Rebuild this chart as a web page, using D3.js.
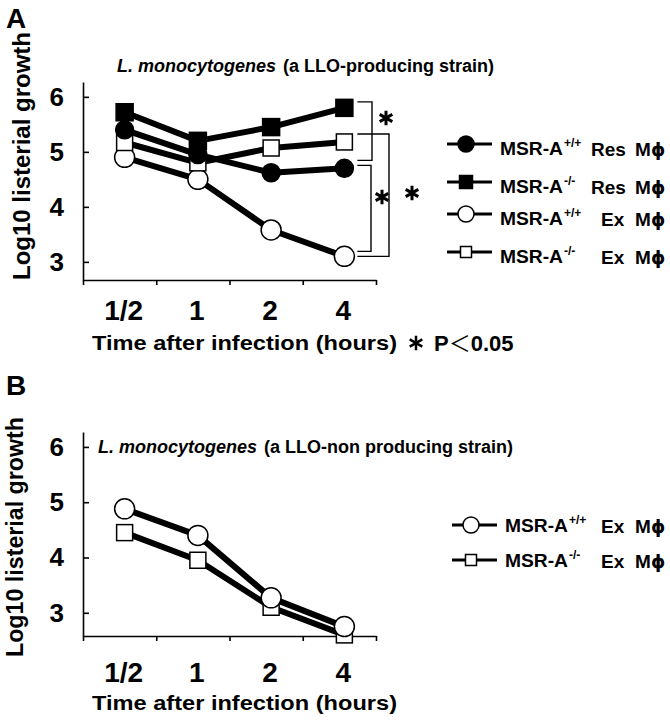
<!DOCTYPE html>
<html>
<head>
<meta charset="utf-8">
<script src="https://cdn.jsdelivr.net/npm/d3@7"></script>
<style>
  body { margin: 0; background: #fff; }
  svg { display: block; }
  text { font-family: "Liberation Sans", Arial, sans-serif; font-weight: bold; fill: #000; }
</style>
</head>
<body>
<div id="chart"></div>
<script>
// time points and y ticks
const times = ["1/2", "1", "2", "4"];
const yTicks = [3, 4, 5, 6];

// panel A: LLO-producing strain
const resWT_A = [5.4, 4.95, 4.62, 4.7];
const resKO_A = [5.72, 5.2, 5.45, 5.8];
const exWT_A = [4.9, 4.5, 3.58, 3.1];
const exKO_A = [5.17, 4.8, 5.07, 5.18];

// panel B: LLO-non producing strain
const exWT_B = [4.88, 4.4, 3.27, 2.75];
const exKO_B = [4.45, 3.95, 3.1, 2.6];

const seriesA = [
    { key: "exWT", values: exWT_A, shape: "circle", filled: false, geno: "+/+", cell: "Ex" },
    { key: "exKO", values: exKO_A, shape: "square", filled: false, geno: "-/-", cell: "Ex" },
    { key: "resWT", values: resWT_A, shape: "circle", filled: true, geno: "+/+", cell: "Res" },
    { key: "resKO", values: resKO_A, shape: "square", filled: true, geno: "-/-", cell: "Res" }
];
const legendOrderA = ["resWT", "resKO", "exWT", "exKO"];

const seriesB = [
    { key: "exKO", values: exKO_B, shape: "square", filled: false, geno: "-/-", cell: "Ex" },
    { key: "exWT", values: exWT_B, shape: "circle", filled: false, geno: "+/+", cell: "Ex" }
];
const legendOrderB = ["exWT", "exKO"];

// significance brackets in panel A (pairs compared at 4 h)
const bracketsA = [
    { from: "resKO", to: "resWT", x: 372, dy: [-6, -8] },
    { from: "exKO", to: "exWT", x: 389, dy: [-8, 0] },
    { from: "resWT", to: "exWT", x: 371, dy: [-3, -5] }
];

const svg = d3.select("#chart")
    .append("svg")
    .attr("width", 670)
    .attr("height", 720);

svg.append("rect").attr("width", 670).attr("height", 720).attr("fill", "#fff");

function marker(g, s, cx, cy, big) {
    const fill = s.filled ? "#000" : "#fff";
    if (s.shape === "circle") {
        g.append("circle")
            .attr("cx", cx).attr("cy", cy)
            .attr("r", big ? (s.filled ? 9 : 10) : 8)
            .attr("fill", fill).attr("stroke", "#000").attr("stroke-width", 1.5);
    } else {
        const side = big ? (s.filled ? 17 : 16) : (s.filled ? 13 : 11);
        g.append("rect")
            .attr("x", cx - side / 2).attr("y", cy - side / 2)
            .attr("width", side).attr("height", side)
            .attr("fill", fill).attr("stroke", "#000").attr("stroke-width", 1.5);
    }
}

function panel(opt) {
    const g = svg.append("g");

    const x = d3.scaleBand().domain(times).range([83, 376]);
    const px = d => x(d) + x.bandwidth() / 2 + 5;
    const xEdges = d3.scaleLinear().domain([0, times.length]).range([83, 376]);
    const y = d3.scaleLinear().domain(opt.yDomain).range([opt.bottom, opt.top]);

    // y axis
    const yAxis = g.append("g")
        .attr("transform", "translate(83,0)")
        .call(d3.axisLeft(y).tickValues(yTicks).tickSizeInner(-6).tickSizeOuter(0)
            .tickPadding(19).tickFormat(d3.format("d")));
    yAxis.selectAll("text").style("font-size", "26px");

    // x axis with ticks between time points
    g.append("g")
        .attr("transform", `translate(0,${opt.bottom})`)
        .call(d3.axisBottom(xEdges).tickValues(d3.range(times.length + 1))
            .tickSize(5).tickSizeOuter(0).tickFormat(""));

    g.selectAll(".domain, .tick line").attr("stroke", "#000").attr("stroke-width", 1.6);

    g.selectAll(".xlab")
        .data(times)
        .enter()
        .append("text")
        .attr("class", "xlab")
        .attr("x", d => px(d) - 1)
        .attr("y", opt.bottom + opt.labelGap)
        .attr("text-anchor", "middle")
        .style("font-size", "28px")
        .text(d => d);

    g.append("text")
        .attr("x", 92)
        .attr("y", opt.bottom + opt.titleGap)
        .attr("textLength", 305)
        .attr("lengthAdjust", "spacingAndGlyphs")
        .style("font-size", "21px")
        .text("Time after infection (hours)");

    g.append("text")
        .attr("transform", `translate(${opt.yTitleX},${opt.yTitleY}) rotate(-90)`)
        .attr("text-anchor", "middle")
        .attr("textLength", opt.yTitleLen)
        .attr("lengthAdjust", "spacingAndGlyphs")
        .style("font-size", "23px")
        .text("Log10 listerial growth");

    // panel letter
    g.append("text")
        .attr("x", 6)
        .attr("y", opt.letterY)
        .style("font-size", "28px")
        .text(opt.letter);

    // strain title
    const t = g.append("text")
        .attr("x", opt.titleX)
        .attr("y", opt.titleY)
        .style("font-size", "18px");
    t.append("tspan").style("font-style", "italic").text("L. monocytogenes");
    t.append("tspan").attr("dx", 7).text(opt.strain);

    // lines
    const line = d3.line()
        .x((d, i) => px(times[i]))
        .y(d => y(d));

    g.selectAll(".series")
        .data(opt.series)
        .enter()
        .append("path")
        .attr("class", "series")
        .attr("d", d => line(d.values))
        .attr("fill", "none")
        .attr("stroke", "#000")
        .attr("stroke-width", 6)
        .attr("stroke-linejoin", "round");

    opt.series.forEach(s => {
        s.values.forEach((v, i) => marker(g, s, px(times[i]), y(v), true));
    });

    // legend
    const bySeries = new Map(opt.series.map(s => [s.key, s]));
    opt.legend.forEach((key, i) => {
        const s = bySeries.get(key);
        const ly = opt.legendY[i];
        const lg = g.append("g");
        lg.append("line")
            .attr("x1", opt.legendX).attr("x2", opt.legendX + 45)
            .attr("y1", ly).attr("y2", ly)
            .attr("stroke", "#000").attr("stroke-width", 3);
        marker(lg, s, opt.legendX + 19, ly, false);
        const ty = ly + opt.legendTextDy;
        lg.append("text").attr("x", opt.legendX + 53).attr("y", ty)
            .attr("textLength", 63).attr("lengthAdjust", "spacingAndGlyphs")
            .style("font-size", "19px").text("MSR-A");
        lg.append("text").attr("x", opt.legendX + 117).attr("y", ty - 8)
            .style("font-size", "12px").text(s.geno);
        lg.append("text").attr("x", s.cell === "Res" ? 591 : 601).attr("y", ty + 1)
            .style("font-size", "19px").text(s.cell);
        lg.append("text").attr("x", 635).attr("y", ty + 1)
            .style("font-size", "19px").text("M");
        lg.append("text").attr("x", 651).attr("y", ty + 1)
            .style("font-family", "'DejaVu Sans', sans-serif")
            .style("font-size", "18px").text("ϕ");
    });

    return { g, x, px, y, bySeries };
}

const A = panel({
    letter: "A", letterY: 28,
    yDomain: [2.67, 6.27], top: 82, bottom: 280,
    labelGap: 40, titleGap: 70,
    yTitleX: 30, yTitleY: 156, yTitleLen: 248,
    titleX: 117, titleY: 72, strain: "(a LLO-producing strain)",
    series: seriesA, legend: legendOrderA,
    legendX: 447, legendY: [144, 182, 214, 252], legendTextDy: 11
});

const B = panel({
    letter: "B", letterY: 395,
    yDomain: [2.58, 6.27], top: 432, bottom: 636,
    labelGap: 46, titleGap: 74,
    yTitleX: 23, yTitleY: 537, yTitleLen: 240,
    titleX: 98, titleY: 453, strain: "(a LLO-non producing strain)",
    series: seriesB, legend: legendOrderB,
    legendX: 452, legendY: [525, 560], legendTextDy: 7
});

// brackets and stars in panel A
const last = times.length - 1;
const xLast = A.px(times[last]);
bracketsA.forEach(b => {
    const y1 = A.y(A.bySeries.get(b.from).values[last]) + b.dy[0];
    const y2 = A.y(A.bySeries.get(b.to).values[last]) + b.dy[1];
    A.g.append("path")
        .attr("d", `M${xLast + 13},${y1}H${b.x}V${y2}H${xLast + 13}`)
        .attr("fill", "none")
        .attr("stroke", "#000")
        .attr("stroke-width", 1.4);
});

const star = d3.symbol().type(d3.symbolAsterisk).size(150);
[[386, 118], [382, 197], [412, 193]].forEach(p => {
    A.g.append("path")
        .attr("d", star())
        .attr("transform", `translate(${p[0]},${p[1]})`)
        .attr("fill", "none")
        .attr("stroke", "#000")
        .attr("stroke-width", 3);
});

// significance note
A.g.append("path")
    .attr("d", star())
    .attr("transform", "translate(416,343)")
    .attr("fill", "none")
    .attr("stroke", "#000")
    .attr("stroke-width", 2.5);
const note = A.g.append("text")
    .attr("x", 434)
    .attr("y", 351)
    .style("font-size", "22px");
note.append("tspan").text("P");
note.append("tspan")
    .style("font-family", "'Noto Sans CJK JP', sans-serif")
    .style("font-weight", "normal")
    .text("＜");
note.append("tspan").text("0.05");
</script>
</body>
</html>
